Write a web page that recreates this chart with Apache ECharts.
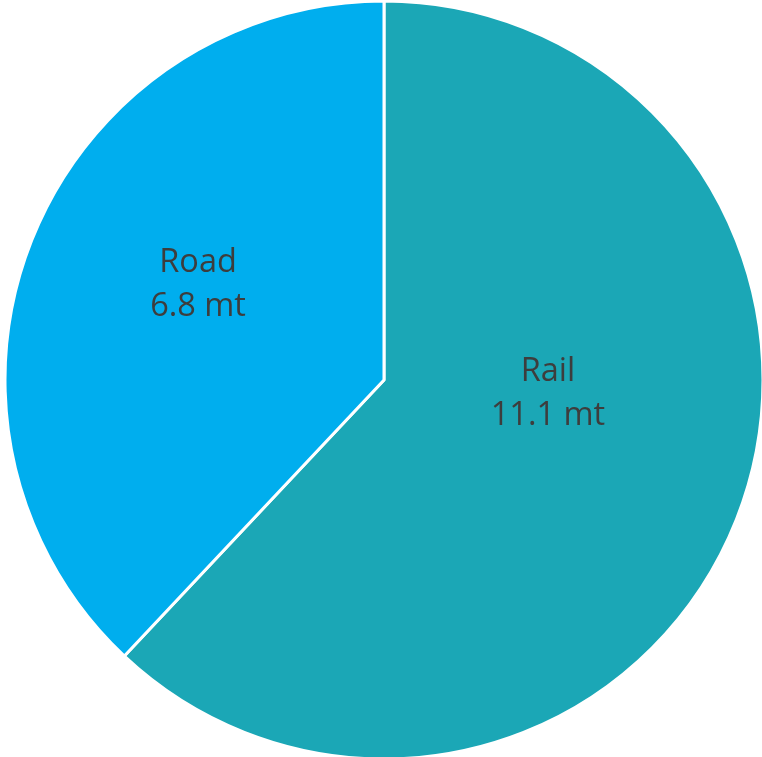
<!DOCTYPE html>
<html>
<head>
<meta charset="utf-8">
<style>
  html, body { margin: 0; padding: 0; background: #ffffff; }
  #chart { width: 762px; height: 757px; }
</style>
<script src="https://cdn.jsdelivr.net/npm/echarts@6/dist/echarts.min.js"></script>
</head>
<body>
<div id="chart"></div>
<script>
// Freight volumes by transport mode (million tonnes)
const modes = ['Rail', 'Road'];
const volumes = [11.1, 6.8];
const unit = 'mt';

const colors = ['#1BA7B6', '#00AEEE'];
const labelOffsets = [[-15, -57], [-7, -24]];

const chart = echarts.init(document.getElementById('chart'), null, { renderer: 'canvas' });

chart.setOption({
  animation: false,
  backgroundColor: '#ffffff',
  series: [{
    type: 'pie',
    center: [384, 380],
    radius: [0, 379],
    startAngle: 90,
    clockwise: true,
    avoidLabelOverlap: false,
    itemStyle: { borderColor: '#ffffff', borderWidth: 3 },
    label: {
      show: true,
      position: 'inside',
      fontFamily: 'Open Sans',
      fontSize: 32.5,
      lineHeight: 44,
      color: '#3d3d3d',
      formatter: p => p.name + '\n' + p.value + ' ' + unit
    },
    labelLine: { show: false },
    emphasis: { disabled: true },
    data: modes.map((m, i) => ({
      name: m,
      value: volumes[i],
      itemStyle: { color: colors[i] },
      label: { offset: labelOffsets[i] }
    }))
  }]
});
</script>
</body>
</html>
